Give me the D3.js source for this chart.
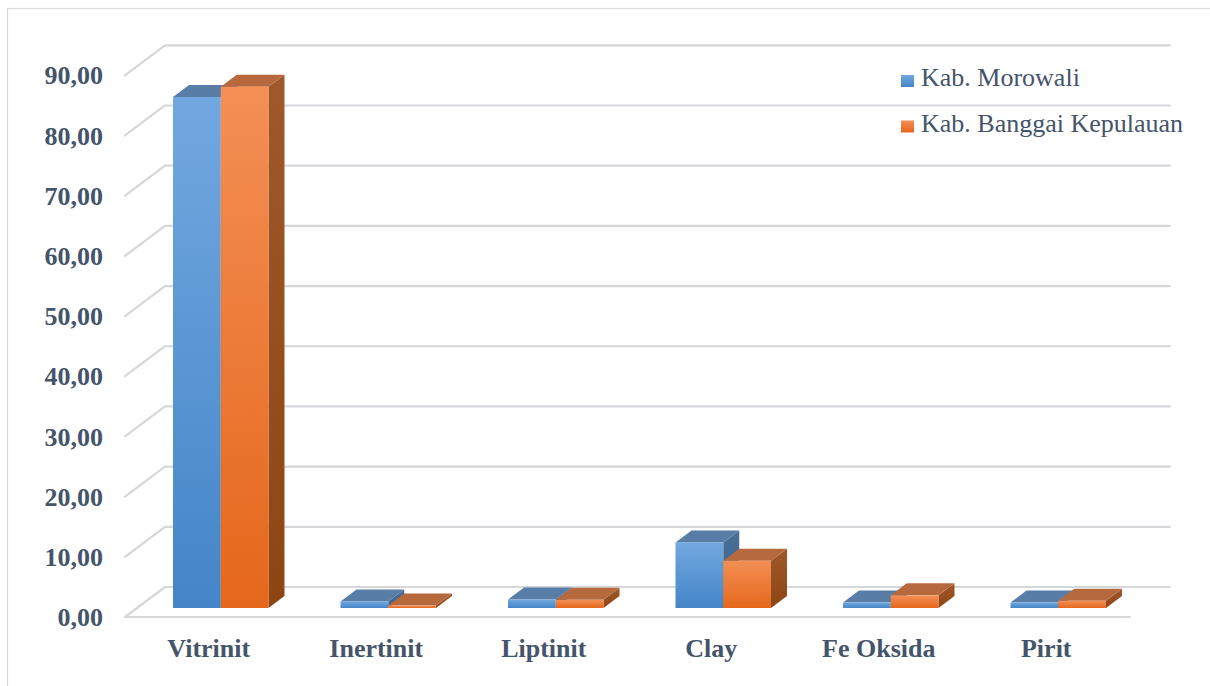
<!DOCTYPE html>
<html>
<head>
<meta charset="utf-8">
<script src="https://cdn.jsdelivr.net/npm/d3@7/dist/d3.min.js"></script>
<style>
  html, body { margin: 0; padding: 0; background: #fff; }
  svg { display: block; }
</style>
</head>
<body>
<svg id="chart" width="1210" height="686"></svg>
<script>
// Maceral / mineral composition (%) for two regencies
const categories = ["Vitrinit", "Inertinit", "Liptinit", "Clay", "Fe Oksida", "Pirit"];
const seriesNames = ["Kab. Morowali", "Kab. Banggai Kepulauan"];
const morowali = [84.9, 1.1, 1.4, 10.9, 0.9, 0.9];
const banggai = [86.6, 0.4, 1.35, 7.85, 2.1, 1.2];
const yTicks = [0, 10, 20, 30, 40, 50, 60, 70, 80, 90];

const seriesValues = [morowali, banggai];

const svg = d3.select("#chart");
const W = 1210, H = 686;

// outer chart frame
svg.append("rect")
  .attr("x", 7.5).attr("y", 8.5)
  .attr("width", W + 10).attr("height", H + 10)
  .attr("fill", "#fff").attr("stroke", "#d9d9d9").attr("stroke-width", 1.2);

// oblique 3D projection: front floor line + depth vector
const floorLeft = 125, floorRight = 1130;
const depthX = 40, depthY = -30;
const y = d3.scaleLinear().domain([0, 90]).range([617, 617 - 541.7]);
const x = d3.scaleBand().domain(categories).range([floorLeft, floorRight])
  .paddingInner(0.43).paddingOuter(0.215);
const xs = d3.scaleBand().domain(seriesNames).range([0, x.bandwidth()]);

const gridColor = "#d6d7db";
const textColor = "#44546a";
const fmt = v => d3.format(".2f")(v).replace(".", ",");

// walls: gridlines on left wall + back wall
const grid = svg.append("g");
yTicks.forEach(t => {
  const yf = y(t);
  grid.append("path")
    .attr("d", `M${floorLeft},${yf} L${floorLeft + depthX},${yf + depthY} L${floorRight + depthX},${yf + depthY}`)
    .attr("fill", "none").attr("stroke", gridColor).attr("stroke-width", 2.2)
    .attr("stroke-linejoin", "round").attr("stroke-linecap", "round");
});
// front edge of the floor
grid.append("line")
  .attr("x1", floorLeft).attr("x2", floorRight)
  .attr("y1", y(0)).attr("y2", y(0))
  .attr("stroke", gridColor).attr("stroke-width", 2.2).attr("stroke-linecap", "round");

// value axis labels
svg.append("g").selectAll("text").data(yTicks).join("text")
  .attr("x", 103).attr("y", d => y(d))
  .attr("dy", "0.35em")
  .attr("text-anchor", "end")
  .attr("font-family", "'Liberation Serif', 'Times New Roman', serif")
  .attr("font-weight", "bold").attr("font-size", 26)
  .attr("fill", textColor)
  .text(fmt);

// category labels
svg.append("g").selectAll("text").data(categories).join("text")
  .attr("x", d => x(d) + x.bandwidth() / 2)
  .attr("y", 657)
  .attr("text-anchor", "middle")
  .attr("font-family", "'Liberation Serif', 'Times New Roman', serif")
  .attr("font-weight", "bold").attr("font-size", 26)
  .attr("fill", textColor)
  .text(d => d);

// colour definitions per series
const palette = [
  { frontTop: "#72a8df", frontBot: "#4485c8", top: "#587da7", sideTop: "#4a6f96", sideBot: "#3c628a" },
  { frontTop: "#f38f55", frontBot: "#e5671b", top: "#b6693d", sideTop: "#a0582b", sideBot: "#8e4514" }
];
const defs = svg.append("defs");
palette.forEach((p, i) => {
  const g = defs.append("linearGradient").attr("id", "front" + i)
    .attr("x1", 0).attr("y1", 0).attr("x2", 0).attr("y2", 1);
  g.append("stop").attr("offset", "0%").attr("stop-color", p.frontTop);
  g.append("stop").attr("offset", "100%").attr("stop-color", p.frontBot);
  const s = defs.append("linearGradient").attr("id", "side" + i)
    .attr("x1", 0).attr("y1", 0).attr("x2", 0).attr("y2", 1);
  s.append("stop").attr("offset", "0%").attr("stop-color", p.sideTop);
  s.append("stop").attr("offset", "100%").attr("stop-color", p.sideBot);
});

// bars occupy the middle of the floor depth
const d0 = 0.3, d1 = 0.7;
const fx = depthX * d0, fy = depthY * d0;
const bx = depthX * (d1 - d0), by = depthY * (d1 - d0);

const bars = svg.append("g");
categories.forEach((c, ci) => {
  seriesNames.forEach((s, si) => {
    const v = seriesValues[si][ci];
    const x0 = x(c) + xs(s) + fx, x1 = x0 + xs.bandwidth();
    const yb = y(0) + fy, yt = y(v) + fy;
    const g = bars.append("g");
    // right side face
    g.append("path")
      .attr("d", `M${x1},${yt} L${x1 + bx},${yt + by} L${x1 + bx},${yb + by} L${x1},${yb} Z`)
      .attr("fill", `url(#side${si})`);
    // top face
    g.append("path")
      .attr("d", `M${x0},${yt} L${x1},${yt} L${x1 + bx},${yt + by} L${x0 + bx},${yt + by} Z`)
      .attr("fill", palette[si].top);
    // front face
    g.append("rect")
      .attr("x", x0).attr("y", yt)
      .attr("width", x1 - x0).attr("height", Math.max(0, yb - yt))
      .attr("fill", `url(#front${si})`);
  });
});

// legend
const legend = svg.append("g");
seriesNames.forEach((s, i) => {
  const ly = 75 + i * 45.5;
  legend.append("rect")
    .attr("x", 901).attr("y", ly).attr("width", 13).attr("height", 12)
    .attr("fill", `url(#front${i})`);
  legend.append("text")
    .attr("x", 921).attr("y", ly + 11)
    .attr("font-family", "'Liberation Serif', 'Times New Roman', serif")
    .attr("font-size", 26).attr("fill", textColor)
    .text(s);
});
</script>
</body>
</html>
